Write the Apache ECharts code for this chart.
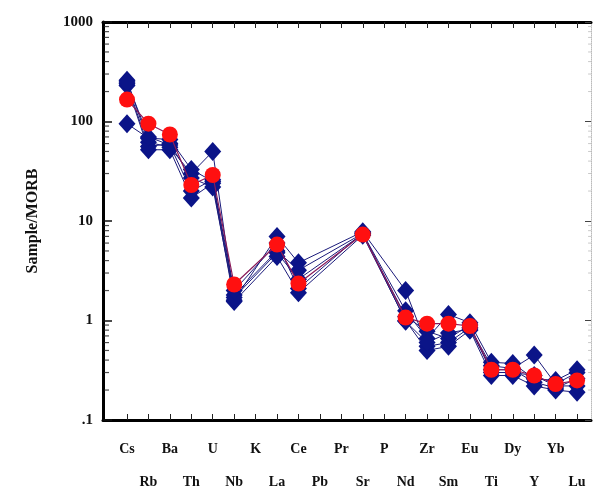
<!DOCTYPE html>
<html>
<head>
<meta charset="utf-8">
<script src="https://cdn.jsdelivr.net/npm/echarts@6/dist/echarts.min.js"></script>
<style>
  html, body { margin: 0; padding: 0; background: #fff; }
  #chart { width: 593px; height: 489px; }
</style>
</head>
<body>
<div id="chart"></div>
<script>
// element order on the x axis
const elements = ['Cs', 'Rb', 'Ba', 'Th', 'U', 'Nb', 'K', 'La', 'Ce', 'Pb', 'Pr',
  'Sr', 'P', 'Nd', 'Zr', 'Sm', 'Eu', 'Ti', 'Dy', 'Y', 'Yb', 'Lu']

// MORB-normalised samples (null = not analysed)
const sample1 = [260, 62, 55, 30, 50, 1.6, null, 7.0, 3.8, null, null, 7.8, null, 2.0, 0.55, 0.6, 0.85, 0.35, 0.33, 0.45, 0.23, 0.30]
const sample2 = [230, 52, 52, 17, 24, 1.55, null, 4.4, 1.9, null, null, 7.2, null, 1.0, 0.5, 0.55, 0.8, 0.28, 0.28, 0.22, 0.2, 0.19]
const sample3 = [95, 68, 66, 33, 25, 1.8, null, 5.0, 3.2, null, null, 7.5, null, 1.25, 0.66, 1.15, 0.95, 0.38, 0.37, 0.26, 0.25, 0.32]
const sample4 = [240, 56, 60, 27, 22, 1.7, null, 4.8, 2.6, null, null, 7.4, null, 1.1, 0.78, 0.66, 0.9, 0.3, 0.3, 0.28, 0.22, 0.22]
const sample5 = [250, 70, 58, 20, 26, 2.0, null, 6.0, 2.1, null, null, 7.6, null, 0.98, 0.6, 0.75, 0.82, 0.32, 0.32, 0.24, 0.21, 0.26]
const sampleRed = [166, 95, 74, 23, 29, 2.3, null, 5.8, 2.35, null, null, 7.3, null, 1.07, 0.93, 0.93, 0.88, 0.32, 0.32, 0.28, 0.23, 0.25]

const blueSamples = [sample1, sample2, sample3, sample4, sample5]
const yLabels = ['.1', '1', '10', '100', '1000']

// decade ticks in exponent space (log10)
const decadeExp = [-1, 0, 1, 2, 3]
// minor log ticks (2..9 in each decade), raw values
const minorTicks = [
  0.2, 0.3, 0.4, 0.5, 0.6, 0.7, 0.8, 0.9,
  2, 3, 4, 5, 6, 7, 8, 9,
  20, 30, 40, 50, 60, 70, 80, 90,
  200, 300, 400, 500, 600, 700, 800, 900,
]

const X_MIN = -1.12
const X_MAX = 21.65
const idx = elements.map((e, i) => i)
const toPoints = (arr) => arr.map((v, i) => [i, v])

const chart = echarts.init(document.getElementById('chart'))

const serifBold = { fontFamily: 'Liberation Serif', fontWeight: 'bold', color: '#111' }

const series = blueSamples.map((s) => ({
  type: 'line',
  data: toPoints(s),
  connectNulls: true,
  symbol: 'diamond',
  symbolSize: [17, 19],
  lineStyle: { color: '#1a1a7a', width: 1 },
  itemStyle: { color: '#0b1488' },
  z: 2,
}))
series.push({
  type: 'line',
  data: toPoints(sampleRed),
  connectNulls: true,
  symbol: 'circle',
  symbolSize: 16,
  lineStyle: { color: '#8a1a5a', width: 1.2 },
  itemStyle: { color: '#ff1010' },
  z: 3,
})
// minor log ticks: short marks placed by the log scale, anchored on the
// first / last category and shifted onto the frame
series.push({
  type: 'scatter',
  silent: true,
  clip: false,
  data: minorTicks.map((v) => [0, v]),
  symbol: 'rect',
  symbolSize: [5, 1.2],
  symbolOffset: [-20.5, 0],
  itemStyle: { color: '#222' },
  z: 5,
})
series.push({
  type: 'scatter',
  silent: true,
  clip: false,
  data: minorTicks.map((v) => [elements.length - 1, v]),
  symbol: 'rect',
  symbolSize: [3, 1],
  symbolOffset: [12.5, 0],
  itemStyle: { color: '#bbb' },
  z: 5,
})

chart.setOption({
  animation: false,
  grid: { left: 103, top: 22, right: 2, bottom: 69, outerBoundsMode: 'none', containLabel: false },
  xAxis: [
    {
      type: 'value',
      min: X_MIN,
      max: X_MAX,
      position: 'bottom',
      splitLine: { show: false },
      axisLine: { onZero: false, lineStyle: { color: '#000', width: 3 } },
      axisTick: { inside: true, length: 6, customValues: idx, lineStyle: { color: '#222', width: 1 } },
      axisLabel: {
        customValues: idx,
        margin: 13,
        ...serifBold,
        fontSize: 14,
        lineHeight: 33,
        formatter: (v) => (v % 2 ? '\n' + elements[v] : elements[v]),
      },
    },
    {
      type: 'value',
      min: X_MIN,
      max: X_MAX,
      position: 'top',
      splitLine: { show: false },
      axisLine: { onZero: false, lineStyle: { color: '#000', width: 3 } },
      axisTick: { inside: true, length: 6, customValues: idx, lineStyle: { color: '#222', width: 1 } },
      axisLabel: { show: false },
    },
  ],
  yAxis: [
    {
      // data axis (log) with the thick left frame
      type: 'log',
      logBase: 10,
      min: 0.1,
      max: 1000,
      position: 'left',
      name: 'Sample/MORB',
      nameLocation: 'middle',
      nameGap: 62,
      nameTextStyle: { ...serifBold, fontSize: 16 },
      splitLine: { show: false },
      axisLine: { onZero: false, lineStyle: { color: '#000', width: 3 } },
      axisTick: { show: false },
      axisLabel: { show: false },
    },
    {
      // decade ticks + labels
      type: 'value',
      min: -1,
      max: 3,
      position: 'left',
      splitLine: { show: false },
      axisLine: { show: false, onZero: false },
      axisTick: { inside: true, length: 9, customValues: decadeExp, lineStyle: { color: '#111', width: 1.5 } },
      axisLabel: {
        customValues: decadeExp,
        margin: 10,
        ...serifBold,
        fontSize: 15,
        formatter: (v) => yLabels[Math.round(v) + 1],
      },
    },
    {
      // light right frame with decade ticks
      type: 'value',
      min: -1,
      max: 3,
      position: 'right',
      splitLine: { show: false },
      axisLine: { onZero: false, lineStyle: { color: '#bbb', width: 1, type: 'dotted' } },
      axisTick: { inside: true, length: 6, customValues: decadeExp, lineStyle: { color: '#444', width: 1 } },
      axisLabel: { show: false },
    },
  ],
  series,
})
</script>
</body>
</html>
